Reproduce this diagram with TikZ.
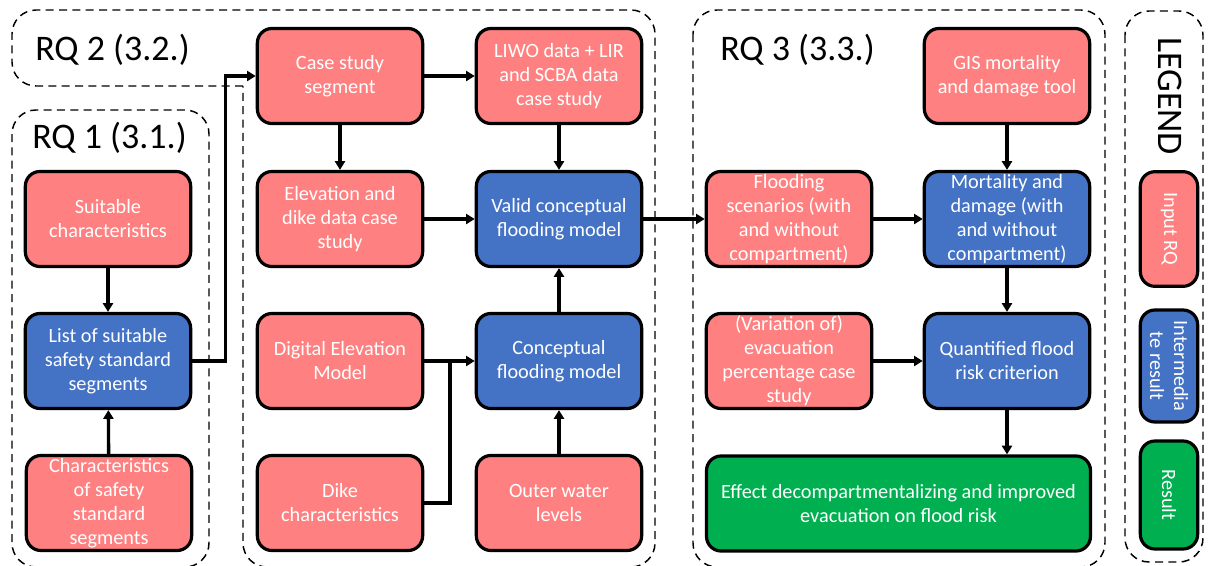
\documentclass[tikz,border=0pt]{standalone}
\usepackage{fontspec}
\setmainfont{Carlito}
\usetikzlibrary{arrows.meta}
\definecolor{pinkc}{RGB}{255,128,128}
\definecolor{bluec}{RGB}{68,114,196}
\definecolor{greenc}{RGB}{0,176,80}
\newcommand\myboxfont{\fontsize{15.2}{18}\selectfont}
\newcommand\myrqfont{\fontsize{27}{31}\selectfont}
\tikzset{
  box/.style={draw=black, line width=2.4pt, rounded corners=11pt,
    minimum width=124pt, minimum height=71.3pt, align=center,
    text=white, font=\myboxfont, inner sep=1pt},
  inbox/.style={box, fill=pinkc},
  midbox/.style={box, fill=bluec},
  resbox/.style={box, fill=greenc},
  conn/.style={line width=2.5pt, -{Triangle[length=6.5pt,width=7.5pt]}},
  plainline/.style={line width=2.5pt},
  region/.style={draw=black, line width=1.1pt, dash pattern=on 6pt off 4pt, rounded corners=18pt},
  rqlabel/.style={font=\myrqfont, anchor=base west, inner sep=0pt},
}
\begin{document}
\begin{tikzpicture}[x=0.75pt, y=-0.75pt]
\useasboundingbox (0,0) rectangle (1208,565);

% dashed regions
\draw[region] (12,110) rectangle (209,567);
\draw[region] (243,86) -- (12,86) -- (12,10) -- (655,10) -- (655,567) -- (243,567) -- (243,86);
\draw[region] (693,10) rectangle (1105,567);
\draw[region] (1125,11) rectangle (1203,562);

% labels
\node[rqlabel] (rq2) at (35,60) {RQ 2 (3.2.)};
\node[rqlabel] (rq1) at (32,148) {RQ 1 (3.1.)};
\node[rqlabel] (rq3) at (720,60) {RQ 3 (3.3.)};
\node[font=\myrqfont, rotate=-90, inner sep=0pt] (leg) at (1170,96) {LEGEND};

% RQ1
\node[inbox] (suit) at (108,219) {Suitable\\characteristics};
\node[midbox] (list) at (108,361) {List of suitable\\safety standard\\segments};
\node[inbox] (chars) at (109,503) {Characteristics\\of safety\\standard\\segments};

% RQ2
\node[inbox] (case) at (340,76) {Case study\\segment};
\node[inbox] (liwo) at (559,76) {LIWO data + LIR\\and SCBA data\\case study};
\node[inbox] (elev) at (340,219) {Elevation and\\dike data case\\study};
\node[midbox] (valid) at (559,219) {Valid conceptual\\flooding model};
\node[inbox] (dem) at (340,361) {Digital Elevation\\Model};
\node[midbox] (concept) at (559,361) {Conceptual\\flooding model};
\node[inbox] (dike) at (340,503) {Dike\\characteristics};
\node[inbox] (outer) at (559,503) {Outer water\\levels};

% RQ3
\node[inbox] (gis) at (1007,76) {GIS mortality\\and damage tool};
\node[inbox] (flood) at (789,219) {Flooding\\scenarios (with\\and without\\compartment)};
\node[midbox] (mort) at (1007,219) {Mortality and\\damage (with\\and without\\compartment)};
\node[inbox] (evac) at (789,361) {(Variation of)\\evacuation\\percentage case\\study};
\node[midbox] (quant) at (1007,361) {Quantified flood\\risk criterion};
\node[resbox, minimum width=288pt] (effect) at (898.5,503.5) {Effect decompartmentalizing and improved\\evacuation on flood risk};

% legend
\node[inbox, rotate=-90, minimum width=86pt, minimum height=43pt] (lin) at (1169,229) {Input RQ};
\node[midbox, rotate=-90, minimum width=84pt, minimum height=43pt] (lmid) at (1169,366) {Intermedia\\te result};
\node[resbox, rotate=-90, minimum width=81pt, minimum height=43pt] (lres) at (1169,495) {Result};

% connectors
\coordinate (j) at (450,361);
\draw[conn] (suit) -- (list);
\draw[conn] (chars) -- (list);
\draw[conn] (list.east) -- ++(33,0) |- (case.west);
\draw[conn] (case) -- (liwo);
\draw[conn] (case) -- (elev);
\draw[conn] (liwo) -- (valid);
\draw[conn] (elev) -- (valid);
\draw[conn] (dem) -- (concept);
\draw[plainline] (dike.east) -| (j);
\draw[conn] (outer) -- (concept);
\draw[conn] (concept) -- (valid);
\draw[conn] (valid) -- (flood);
\draw[conn] (gis) -- (mort);
\draw[conn] (flood) -- (mort);
\draw[conn] (mort) -- (quant);
\draw[conn] (evac) -- (quant);
\draw[conn] (quant.south) -- (quant.south |- effect.north);
\end{tikzpicture}
\end{document}
